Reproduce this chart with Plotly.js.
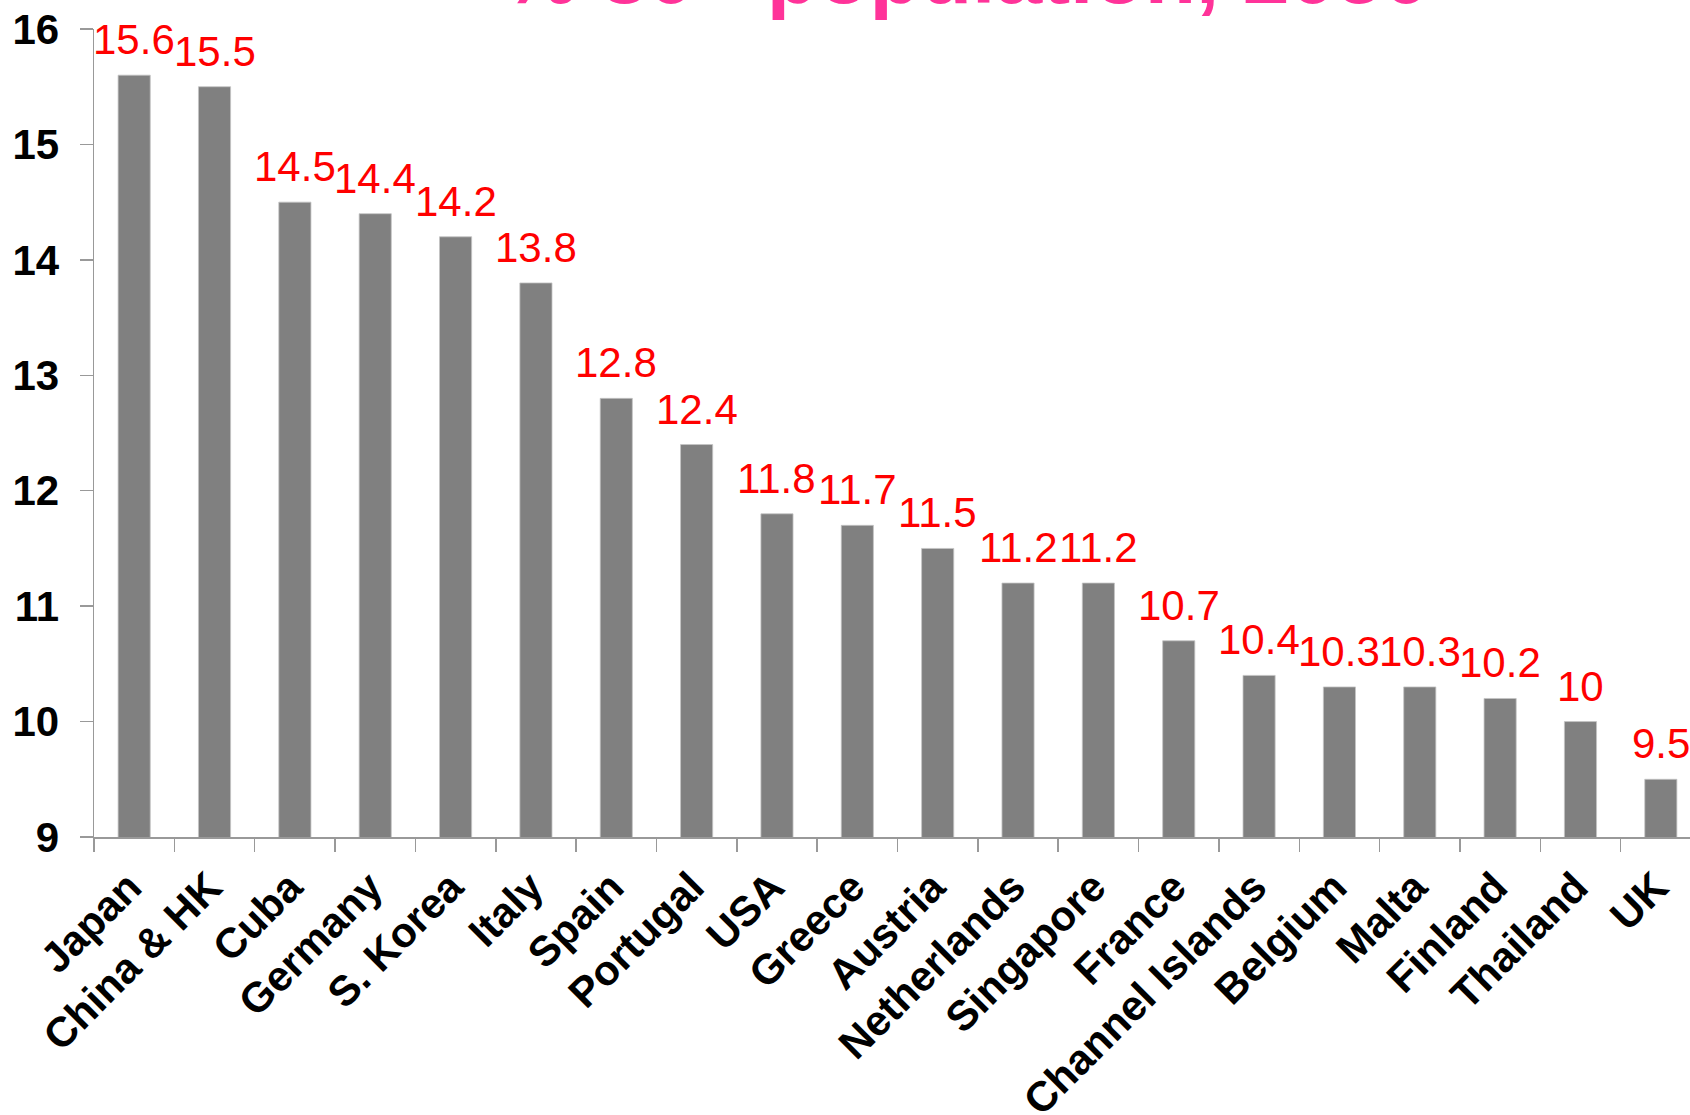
<!DOCTYPE html>
<html>
<head>
<meta charset="utf-8">
<script src="https://cdn.plot.ly/plotly-3.0.1.min.js"></script>
<style>
html, body { margin: 0; padding: 0; overflow: hidden; background: #fff; }
#chart { width: 1710px; height: 1115px; }
</style>
</head>
<body>
<div id="chart"></div>
<script>
// Data
const countries = ["Japan", "China & HK", "Cuba", "Germany", "S. Korea", "Italy", "Spain", "Portugal", "USA", "Greece", "Austria", "Netherlands", "Singapore", "France", "Channel Islands", "Belgium", "Malta", "Finland", "Thailand", "UK"];
const pct80plus2050 = [15.6, 15.5, 14.5, 14.4, 14.2, 13.8, 12.8, 12.4, 11.8, 11.7, 11.5, 11.2, 11.2, 10.7, 10.4, 10.3, 10.3, 10.2, 10, 9.5];
const yTickVals = [9, 10, 11, 12, 13, 14, 15, 16];
const chartTitle = "% 80+ population, 2050";

const FONT = "Liberation Sans, Arial, Helvetica, sans-serif";

const trace = {
  type: "bar",
  x: countries,
  y: pct80plus2050,
  marker: { color: "#808080", line: { color: "#c4c4c4", width: 0.8 } },
  hoverinfo: "x+y"
};

const valueLabels = countries.map((c, i) => ({
  x: c,
  y: pct80plus2050[i],
  xref: "x",
  yref: "y",
  text: String(pct80plus2050[i]),
  showarrow: false,
  yanchor: "bottom",
  xanchor: "center",
  yshift: 10,
  font: { family: FONT, size: 42, color: "#ff0000" }
}));

const titleAnn = {
  xref: "paper",
  yref: "paper",
  x: 0.5427,
  y: 1.0,
  yanchor: "bottom",
  xanchor: "center",
  yshift: 6,
  showarrow: false,
  text: "<b>" + chartTitle + "</b>",
  font: { family: FONT, size: 84, color: "#ff3399" }
};

const layout = {
  width: 1710,
  height: 1115,
  margin: { l: 94.3, r: 9.4, t: 29.3, b: 278.3, pad: 0 },
  paper_bgcolor: "#ffffff",
  plot_bgcolor: "#ffffff",
  showlegend: false,
  bargap: 0.6,
  xaxis: {
    type: "category",
    range: [-0.5, 19.5],
    showline: true,
    linecolor: "#999999",
    linewidth: 1.5,
    ticks: "outside",
    tickson: "boundaries",
    ticklen: 13,
    tickwidth: 1.5,
    tickcolor: "#999999",
    tickangle: -45,
    ticklabelstandoff: 7,
    ticklabelshift: -5,
    showgrid: false,
    zeroline: false,
    tickfont: { family: FONT, size: 42, color: "#000000", weight: "bold" }
  },
  yaxis: {
    range: [9, 16],
    tickvals: yTickVals,
    ticktext: yTickVals.map(String),
    showline: true,
    linecolor: "#999999",
    linewidth: 1.5,
    ticks: "outside",
    ticklen: 13,
    tickwidth: 1.5,
    tickcolor: "#999999",
    ticklabelstandoff: 12,
    showgrid: false,
    zeroline: false,
    tickfont: { family: FONT, size: 42, color: "#000000", weight: "bold" }
  },
  annotations: [titleAnn].concat(valueLabels)
};

Plotly.newPlot("chart", [trace], layout, { displayModeBar: false, staticPlot: true });
</script>
</body>
</html>
